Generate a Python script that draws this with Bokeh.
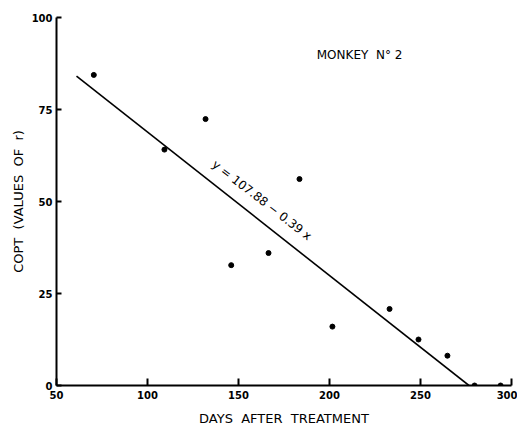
from bokeh.plotting import figure
from bokeh.models import Label, FixedTicker, Range1d
from bokeh.embed import file_html
from bokeh.resources import INLINE
import numpy as np

NB = "\u00a0"

# Data
days = [70.5, 109.3, 131.9, 146.0, 166.5, 183.5, 201.6, 233.0, 248.9, 264.8, 279.7, 294.0]
copt = [84.4, 64.1, 72.4, 32.7, 36.0, 56.1, 16.0, 20.8, 12.5, 8.1, 0.0, 0.0]
intercept = 107.88
slope = -0.39
line_x_start = [61.0]
x_ticks = [50, 100, 150, 200, 250, 300]
y_ticks = [0, 25, 50, 75, 100]
title_text = ["MONKEY" + NB * 2 + "N° 2"]
equation_text = ["y = 107.88 − 0.39 x"]
x_label = "DAYS" + NB * 2 + "AFTER" + NB * 2 + "TREATMENT"
y_label = "COPT" + NB * 2 + "(VALUES" + NB * 2 + "OF" + NB * 2 + "r)"

FONT = "DejaVu Sans"

p = figure(width=517, height=428, output_backend="svg", toolbar_location=None,
           x_range=Range1d(50, 300), y_range=Range1d(0, 100),
           min_border_left=56, min_border_right=6, min_border_top=17, min_border_bottom=42)
p.outline_line_color = None
p.xgrid.visible = False
p.ygrid.visible = False
p.background_fill_color = "white"
p.border_fill_color = "white"

# fitted line
x0 = line_x_start[0]
x1 = -intercept / slope
lx = np.array([x0, x1])
ly = intercept + slope * lx
p.line(lx, ly, line_color="black", line_width=1.6)

p.scatter(days, copt, size=5, color="black")

for ax in (p.xaxis[0], p.yaxis[0]):
    ax.axis_line_width = 2
    ax.axis_line_color = "black"
    ax.major_tick_line_width = 2
    ax.major_tick_line_color = "black"
    ax.minor_tick_line_color = None
    ax.major_tick_out = 0
    ax.major_label_text_font = FONT
    ax.major_label_text_font_style = "bold"
    ax.major_label_text_font_size = "10px"
    ax.major_label_text_color = "black"
    ax.axis_label_text_font = FONT
    ax.axis_label_text_font_style = "normal"
    ax.axis_label_text_color = "black"

p.xaxis.axis_label_text_font_size = "13px"
p.yaxis.axis_label_text_font_size = "13px"
p.xaxis.ticker = FixedTicker(ticks=x_ticks)
p.yaxis.ticker = FixedTicker(ticks=y_ticks)
p.xaxis.major_tick_in = 7
p.yaxis.major_tick_in = 5
p.xaxis.major_label_standoff = 5
p.yaxis.major_label_standoff = 4
p.xaxis.axis_label = x_label
p.yaxis.axis_label = y_label
p.xaxis.axis_label_standoff = 9
p.yaxis.axis_label_standoff = 3

p.add_layout(Label(x=193, y=88, text=title_text[0], text_font=FONT,
                   text_font_size="12px", text_color="black", text_baseline="bottom"))
p.add_layout(Label(x=134, y=59, text=equation_text[0], text_font=FONT,
                   text_font_size="12px", text_color="black", text_baseline="bottom",
                   angle=-0.66))

open("out.html", "w").write(file_html(p, INLINE))
